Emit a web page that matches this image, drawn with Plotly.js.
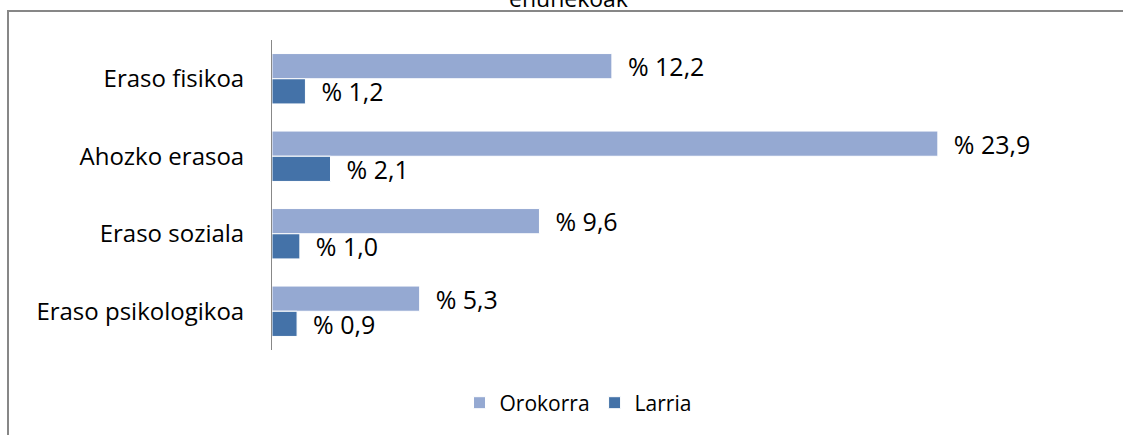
<!DOCTYPE html>
<html><head><meta charset="utf-8">
<script src="https://cdn.plot.ly/plotly-3.0.1.min.js"></script>
<style>html,body{margin:0;padding:0;background:#fff;}#chart{width:1123px;height:435px;}</style>
</head><body><div id="chart"></div>
<script>
const categories = ["Eraso fisikoa", "Ahozko erasoa", "Eraso soziala", "Eraso psikologikoa"];
const orokorra = [12.2, 23.9, 9.6, 5.3];
const larria = [1.2, 2.1, 1.0, 0.9];
const seriesNames = ["Orokorra", "Larria"];
const titleText = "ehunekoak";

const FONT = "'Open Sans', sans-serif";
const FS = 24;
const pad = "\u00a0\u00a0";
const common = {
  type: "bar", orientation: "h", y: categories,
  textposition: "outside", cliponaxis: false, constraintext: "none",
  texttemplate: pad + "% %{x:.1f}",
  textfont: {family: FONT, size: 25, color: "#000"},
  hoverinfo: "none"
};
const traces = [
  Object.assign({}, common, {name: seriesNames[0], x: orokorra,
    marker: {color: "#95A9D2", line: {color: "#ffffff", width: 1}}}),
  Object.assign({}, common, {name: seriesNames[1], x: larria,
    marker: {color: "#4472A8", line: {color: "#ffffff", width: 1}}})
];
const layout = {
  width: 1123, height: 435,
  margin: {l: 272, r: 23, t: 40, b: 85},
  paper_bgcolor: "#fff", plot_bgcolor: "#fff",
  separators: ", ",
  barmode: "group", bargap: 0.35, bargroupgap: 0.0,
  font: {family: FONT, size: FS, color: "#000"},
  xaxis: {range: [0, 29.72], showgrid: false, zeroline: false, showticklabels: false, showline: false, ticks: ""},
  yaxis: {autorange: "reversed", showgrid: false, zeroline: false, showline: true,
          linecolor: "#888", linewidth: 1, ticks: "", ticklabelstandoff: 22,
          tickfont: {family: FONT, size: FS, color: "#000"}},
  showlegend: true,
  legend: {orientation: "h", x: 0.3696, xanchor: "center", y: -0.105, yanchor: "top",
           font: {family: FONT, size: 21, color: "#000"}, itemwidth: 30, tracegroupgap: 0},
  shapes: [{type: "rect", xref: "paper", yref: "paper",
            x0: (8 - 272) / 828, x1: (1140 - 272) / 828,
            y0: (350 - 450) / 310, y1: (350 - 11) / 310,
            line: {color: "#878787", width: 2}, fillcolor: "rgba(0,0,0,0)", layer: "below"}],
  annotations: [{text: titleText, xref: "paper", yref: "paper",
                 x: (568 - 272) / 828, xanchor: "center",
                 y: (350 - 16) / 310, yanchor: "bottom", showarrow: false,
                 font: {family: FONT, size: 23, color: "#000"}}]
};
Plotly.newPlot("chart", traces, layout, {displayModeBar: false, staticPlot: true});
</script></body></html>
